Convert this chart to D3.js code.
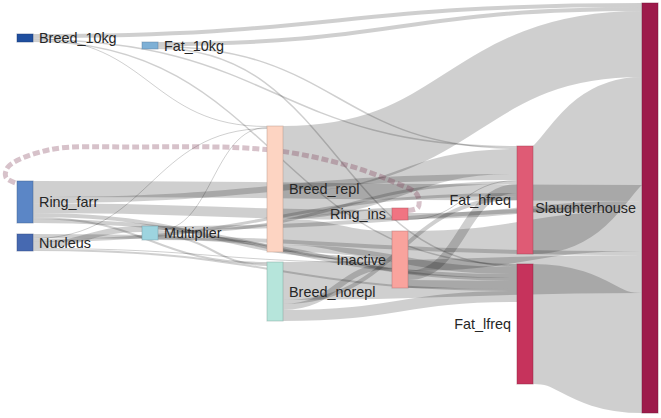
<!DOCTYPE html>
<html><head><meta charset="utf-8">
<script src="https://cdn.jsdelivr.net/npm/d3@7"></script>
<style>
body{margin:0;background:#fff}
svg text{font-family:"Liberation Sans",Arial,sans-serif;font-size:14.4px;fill:#262626}
</style></head><body><svg id="chart" width="661" height="418"></svg>
<script>
// ---------- data ----------
const nodeNames = ["Breed_10kg","Ring_farr","Nucleus","Fat_10kg","Multiplier","Breed_repl","Breed_norepl","Ring_ins","Inactive","Fat_hfreq","Fat_lfreq","Slaughterhouse"];
const nodeColumns = [0,0,0,1,1,2,2,3,3,4,4,5];
const nodeColors = ["#1f4f9f","#5b86c6","#4669b1","#7eb0d6","#9dd4df","#fdd4c2","#b6e5db","#f07482","#f9a39d","#df5b75","#c6335c","#9d1a4b"];
// start of each node inside its column, in flow units (layout of the original chart)
const nodeOffsets = [310,1780,2310,390,2230,1230,2590,2050,2280,1430,2610,0];
const links = [
  ["Breed_10kg","Slaughterhouse",40],["Breed_10kg","Breed_repl",10],["Breed_10kg","Fat_hfreq",15],["Breed_10kg","Fat_lfreq",15],
  ["Fat_10kg","Slaughterhouse",40],["Fat_10kg","Fat_hfreq",15],["Fat_10kg","Fat_lfreq",15],
  ["Ring_farr","Slaughterhouse",160],["Ring_farr","Fat_hfreq",60],["Ring_farr","Ring_ins",100],["Ring_farr","Inactive",40],["Ring_farr","Breed_norepl",20],["Ring_farr","Fat_lfreq",40],
  ["Nucleus","Slaughterhouse",40],["Nucleus","Breed_repl",10],["Nucleus","Fat_hfreq",30],["Nucleus","Multiplier",60],["Nucleus","Inactive",10],["Nucleus","Fat_lfreq",20],
  ["Multiplier","Slaughterhouse",40],["Multiplier","Breed_repl",10],["Multiplier","Fat_hfreq",30],["Multiplier","Inactive",10],["Multiplier","Breed_norepl",20],["Multiplier","Fat_lfreq",30],
  ["Breed_repl","Slaughterhouse",660],["Breed_repl","Fat_hfreq",250],["Breed_repl","Ring_ins",20],["Breed_repl","Inactive",260],["Breed_repl","Fat_lfreq",70],
  ["Breed_norepl","Slaughterhouse",380],["Breed_norepl","Fat_hfreq",40],["Breed_norepl","Inactive",60],["Breed_norepl","Fat_lfreq",110],
  ["Ring_ins","Ring_farr",50],["Ring_ins","Slaughterhouse",60],["Ring_ins","Fat_hfreq",10],
  ["Inactive","Slaughterhouse",400],["Inactive","Fat_hfreq",90],["Inactive","Fat_lfreq",80],
  ["Fat_hfreq","Slaughterhouse",1080],
  ["Fat_lfreq","Slaughterhouse",1200]
];

// ---------- layout ----------
const W = 661, H = 418, nodeW = 16;
const nodes = nodeNames.map((name,i)=>({name, col:nodeColumns[i], color:nodeColors[i], off:nodeOffsets[i], sourceLinks:[], targetLinks:[]}));
const byName = new Map(nodes.map(n=>[n.name,n]));
const L = links.map(([s,t,v])=>({source:byName.get(s), target:byName.get(t), value:v}));
L.forEach(l=>{ l.circular = l.target.col <= l.source.col; l.source.sourceLinks.push(l); l.target.targetLinks.push(l); });
nodes.forEach(n=>{ n.value = Math.max(d3.sum(n.sourceLinks,l=>l.value), d3.sum(n.targetLinks,l=>l.value)); });
const total = d3.max(d3.groups(nodes,n=>n.col), g=>d3.max(g[1], n=>n.off + n.value));
const y = d3.scaleLinear().domain([0,total]).range([3,413]);
const x = d3.scaleLinear().domain([0,d3.max(nodes,n=>n.col)]).range([17, W-3-nodeW]);
nodes.forEach(n=>{ n.x0 = x(n.col); n.x1 = n.x0 + nodeW; n.y0 = y(n.off); n.y1 = y(n.off+n.value); });
const ky = y(1)-y(0);
L.forEach(l=> l.width = l.value*ky);
nodes.forEach(n=>{
  n.sourceLinks.sort((a,b)=> (b.circular-a.circular) || (a.target.y0-b.target.y0));
  n.targetLinks.sort((a,b)=> (b.circular-a.circular) || (a.source.y0-b.source.y0));
  let yy = n.y0; n.sourceLinks.forEach(l=>{ l.y0 = yy + l.width/2; yy += l.width; });
  yy = n.y0; n.targetLinks.forEach(l=>{ l.y1 = yy + l.width/2; yy += l.width; });
});

// ---------- draw ----------
const svg = d3.select("#chart");
const linkPath = d3.linkHorizontal().source(d=>[d.source.x1,d.y0]).target(d=>[d.target.x0,d.y1]);
svg.append("g").attr("fill","none").selectAll("path").data(L.filter(l=>!l.circular)).join("path")
  .attr("d",linkPath).attr("stroke","#000").attr("stroke-opacity",0.19)
  .attr("stroke-width",d=>Math.max(1,d.width));

// circular (backward) links: loop over the top
const loopLine = d3.line().curve(d3.curveCatmullRom.alpha(0.5));
svg.append("g").attr("fill","none").selectAll("path").data(L.filter(l=>l.circular)).join("path")
  .attr("d",d=>{
    const sx=d.source.x1, sy=d.y0, tx=d.target.x0, ty=d.y1;
    const top = d.target.y0 - 34;
    const span = sx - tx;
    return loopLine([[sx,sy],[sx+10,sy-3],[sx+9,sy-16],[sx-18,sy-30],[sx-60,sy-45],[sx-span*0.35,top+3],[tx+span*0.3,top],[tx+span*0.08,top+3],[tx-9,top+20],[tx-11,ty-6],[tx,ty]]);
  })
  .attr("stroke","#7a3550").attr("stroke-opacity",0.3)
  .attr("stroke-width",d=>Math.max(1,d.width)).attr("stroke-dasharray","7,3");

svg.append("g").selectAll("rect").data(nodes).join("rect")
  .attr("x",d=>d.x0).attr("y",d=>d.y0).attr("width",d=>d.x1-d.x0).attr("height",d=>Math.max(1,d.y1-d.y0))
  .attr("fill",d=>d.color).attr("stroke",d=>d3.rgb(d.color).darker(1)).attr("stroke-opacity",0.45);

svg.append("g").selectAll("text").data(nodes).join("text")
  .attr("x",d=> d.x0 < W/2 ? d.x1+6 : d.x0-6)
  .attr("y",d=>(d.y0+d.y1)/2).attr("dy","0.35em")
  .attr("text-anchor",d=> d.x0 < W/2 ? "start" : "end")
  .text(d=>d.name);
</script></body></html>
